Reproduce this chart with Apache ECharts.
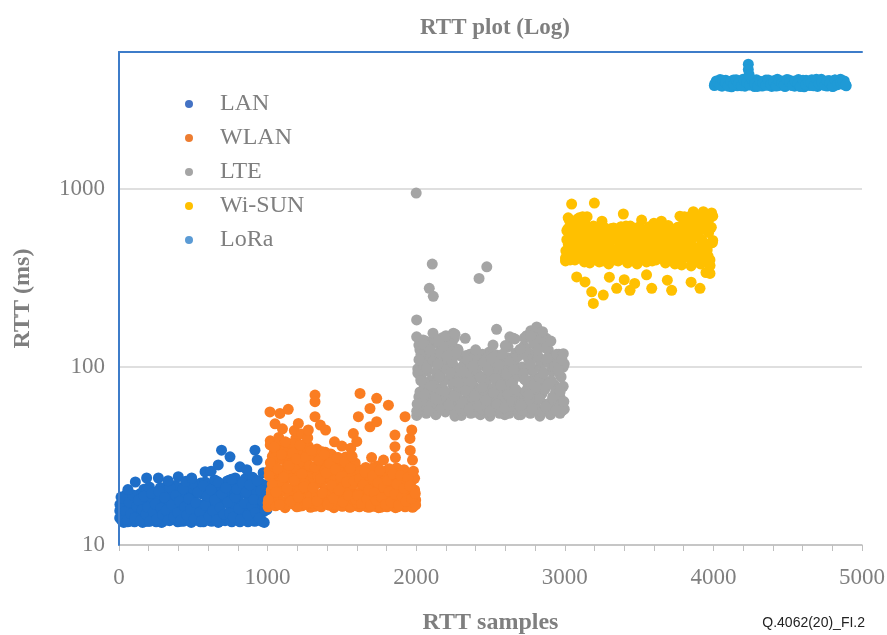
<!DOCTYPE html>
<html><head><meta charset="utf-8">
<script src="https://cdn.jsdelivr.net/npm/echarts@6/dist/echarts.min.js"></script>
<style>html,body{margin:0;padding:0;background:#fff}#c{width:887px;height:635px}</style>
</head><body><div id="c"></div>
<script>
const seriesNames = ['LAN', 'WLAN', 'LTE', 'Wi-SUN', 'LoRa'];
const xTicks = [0, 1000, 2000, 3000, 4000, 5000];
const yTicks = [10, 100, 1000];

// Sample ranges (RTT sample numbers) covered by each network's run
const lanRange = [0, 1000];
const wlanRange = [1000, 2000];
const lteRange = [2000, 3000];
const wisunRange = [3000, 4000];
const loraRange = [4000, 4900];

// RTT values (ms), in sample order (interleaved passes per run)
const lanRtt = [14.2,18.6,16.1,13.4,17.3,15.2,19.0,13.6,16.8,14.7,
 18.2,13.5,15.9,17.8,14.1,19.4,16.4,13.4,20.6,15.0,
 17.1,13.6,21.2,15.6,14.3,19.8,16.9,13.5,18.4,14.8,
 20.9,13.4,16.2,18.9,14.6,21.4,15.3,13.7,19.6,17.2,
 14.0,20.7,16.0,13.5,18.1,21.0,15.1,13.6,17.7,19.9,
 14.4,16.6,21.5,13.4,18.6,15.4,20.3,13.8,17.0,14.9,
 22.3,16.3,13.5,19.2,15.7,21.8,14.2,18.0,13.6,20.5,
 16.8,14.5,22.8,13.4,17.5,19.7,15.0,21.3,13.7,18.8,
 14.3,23.1,16.4,13.5,20.1,15.6,22.0,17.9,13.8,19.3,
 15.2,21.7,14.0,23.6,16.9,13.5,18.5,22.5,15.4,20.0,
 13.6,17.3,23.0,14.6,19.1,16.0,21.9,13.4,18.2,15.8];
const lanRtt2 = [15.6,13.8,17.6,14.9,19.2,13.5,16.4,18.0,
 14.5,17.2,13.7,19.0,15.8,14.0,18.4,16.7,
 13.6,20.2,15.2,17.5,14.2,19.6,16.0,13.8,
 18.7,15.0,21.0,13.5,17.1,14.7,20.4,16.5,
 13.9,18.9,15.5,21.6,14.1,17.8,13.6,19.8,
 16.2,14.6,22.0,15.1,18.3,13.7,20.8,17.0,
 14.3,21.9,16.6,13.5,19.4,15.3,22.6,17.6,
 13.8,20.6,15.8,14.2,23.2,16.9,18.6,13.6,
 21.4,15.0,19.9,14.4,22.9,17.3,13.7,20.9,
 16.1,23.8,14.8,18.9,13.5,22.2,15.9,19.6,
 14.1,21.2,17.7,13.8,24.0,16.3,20.2,14.6,
 22.7,18.1,13.6,15.4,21.6,17.0];
const lanRtt3 = [16.9,14.6,18.3,15.5,13.9,17.4,15.0,19.1,14.2,16.5,
 17.9,13.7,15.8,18.8,14.9,16.3,13.6,19.5,15.4,17.0,
 14.0,20.0,16.1,14.8,18.5,15.7,13.8,21.1,16.8,14.4,
 19.0,15.2,17.6,13.9,20.7,16.4,14.7,18.2,15.9,22.1,
 14.1,17.3,19.8,15.3,13.7,21.5,16.7,18.9,14.5,20.4,
 15.6,17.9,13.8,22.5,16.2,19.4,14.9,21.0,17.4,15.1,
 23.4,14.3,18.6,20.6,16.0,13.9,22.3,17.1,19.9,14.7,
 21.8,16.6,18.0,15.2,23.0,14.2,20.3,17.5,15.8,19.2];
const lanPeaks = [[60,20.5],[110,22.6],[186,23.8],[265,23.8],[330,23.0],[399,24.2],[450,22.8],[489,23.8],
 [579,25.8],[620,26.0],[668,28.2],[690,34.1],[747,31.3],[814,27.5],[860,26.5],[915,34.1],[930,30.0],[970,25.5]];

const wlanRtt = [16.4,26.2,38.5,20.3,29.8,18.1,33.6,23.2,
 16.8,25.4,40.2,21.0,30.5,17.6,35.1,22.6,
 16.2,27.0,37.4,19.8,28.9,18.7,34.4,24.1,
 17.0,25.9,39.6,20.9,31.2,16.5,33.0,22.9,
 16.6,26.8,36.8,19.5,29.4,18.4,35.8,23.6,
 16.3,27.4,
 20.2,31.8,16.5,25.6,34.6,18.9,28.7,22.4,
 16.4,30.9,19.7,26.3,33.2,17.8,23.5,28.2,
 16.7,32.5,21.1,25.1,16.2,29.6,18.6,23.9,
 31.0,17.2,26.9,20.4,16.5,28.4,22.2,30.2,
 17.5,25.0,19.2,16.3,27.6,21.5,29.1,18.0,
 24.4,16.6,
 19.4,26.6,16.4,22.3,18.0,24.8,16.9,21.0,
 27.3,17.5,23.4,16.3,19.9,25.6,17.1,22.0,
 16.5,24.1,18.6,27.8,16.2,20.6,23.0,17.7,
 16.8,25.2,19.0,22.6,16.4,26.4,18.2,21.3,
 16.6,23.8,17.4,20.1,16.2,27.1,18.8,22.9,
 16.9,24.6,17.2,19.6,26.1,16.4,21.7,18.4,
 16.7,25.0,19.3,17.0,23.3,16.5,20.4,17.9];
const wlanRtt2 = [17.2,24.5,36.5,19.4,31.5,21.7,27.6,16.6,
 33.8,18.5,26.0,38.8,22.8,17.4,30.2,20.1,
 25.3,35.0,16.9,28.4,19.0,32.8,23.7,17.8,
 37.2,21.4,27.0,16.4,30.8,19.9,24.8,34.2,
 18.2,29.0,22.1,36.0,17.0,26.5,20.6,31.9,
 18.8,25.5,
 17.3,27.0,21.8,31.4,19.0,24.6,16.8,29.8,
 22.9,33.4,18.1,26.2,20.5,30.4,17.1,24.0,
 28.6,19.6,32.0,21.2,16.9,27.8,23.2,18.6,
 30.6,20.8,25.8,16.6,29.2,22.0,19.3,31.2,
 24.9,17.6,27.3,20.0,16.4,26.0,21.9,17.9,
 28.9,19.1,
 17.2,22.9,18.9,26.0,16.8,20.8,24.2,17.6,
 21.4,16.4,25.3,19.0,23.6,17.3,20.0,27.2,
 16.6,22.6,18.3,24.7,17.0,21.2,16.3,19.6,
 25.9,17.7,23.0,16.5,20.5,18.6,26.8,17.1,
 22.2,16.7,24.0,19.2,17.5,21.9,16.4,25.1,
 18.0,23.4,16.9,20.2,26.5,17.4,22.5,16.6,
 19.8,24.3,17.2,21.0,16.3,18.8,23.7,16.8];
const wlanRtt3 = [18.0,29.0,22.0,35.5,19.8,26.8,16.9,32.2,24.0,38.0,20.9,28.0,
 17.6,33.0,23.0,30.5,18.6,36.4,25.2,21.2,31.0,17.3,27.9,34.0,
 21.0,27.5,17.7,30.0,23.6,19.6,32.2,25.4,16.9,28.8,21.7,18.3,
 26.6,30.9,20.3,24.1,17.5,29.4,22.6,19.0,27.0,31.5,23.0,18.0,
 19.0,23.6,17.1,21.8,25.6,18.1,20.4,16.7,24.4,19.6,17.8,22.4,26.3,18.5,21.1,16.9,
 23.1,20.0,17.4,25.0,19.3,22.0,16.8,24.6,18.7,20.8,17.6,23.9,21.5,18.2,26.0,19.5];
const wlanPeaks = [[1016,56],[1083,54.9],[1139,57.9],[1050,48],[1100,45],[1180,44],[1207,48.2],[1230,42],
 [1270,40],[1274,44.3],[1319,69.6],[1319,63.9],[1319,52.6],[1355,47.2],[1390,44.3],[1450,38],[1500,36],
 [1560,35],[1577,42.3],[1600,38.2],[1611,52.6],[1622,71.1],[1689,58.5],[1689,46.2],[1700,31],[1734,66.7],
 [1734,49.3],[1780,30],[1813,61.1],[1857,41.5],[1857,35.7],[1860,31],[1925,52.6],[1958,39.7],[1960,34],
 [1970,44.3],[1975,30]];

const lteRtt = [53.5,98,68,125,87,60,142,77,111,
 55,101,66,128,84,58,138,79,114,
 54,95,70,121,90,61,146,75,108,
 56,103,67,131,86,59,135,80,117,
 53,99,72,124,88,62,
 53.5,88,64,112,76,58,97,69,118,
 55,83,61,105,73,56,92,66,115,
 54,86,63,109,78,57,99,70,121,
 53,90,65,104,74,60,95,67,113,
 56,85,62,110,77,54,100,71,130,
 55,87,64,108,75,58,94,68,119,54,89,
 54,100,69,131,85,59,150,78,118,
 55,96,67,140,88,60,155,76,112,
 53,104,71,136,83,57,145,80,125,
 62,
 54,95,66,115,79,57,106,72,118,
 55,88,63,100,58];
const lteRtt2 = [56.5,92.5,133,72.5,118,64,104.5,82,140,
 58,95,128,70,115,62,108,80,144,
 55,90,136,75,120,66,102,84,138,
 57,97,130,71,112,63,106,81,146,
 56,94,126,74,116,65,
 57,81,104,64,116,72,92,59,100,
 68,112,78,56,96,62,108,74,88,
 58,118,70,102,60,84,114,66,93,
 57,106,76,99,63,117,71,86,55,
 110,67,91,61,103,79,57,113,69,
 95,60,82,107,65,120,73,89,58,
 98,62,
 57,92,146,73,125,64,110,83,160,
 58,97,138,70,120,66,114,86,152,
 56,94,142,75,128,62,106,81,
 56,84,112,64,100,73,118,59,93,68,108,57,78,104];
const lteRtt3 = [62,110,84,135,70,98,57,125,78,145,66,104,88,58,130,73,115,61,93,140,69,120,82,59,
 63,94,74,110,58,83,101,69,116,60,88,77,106,65,96,56,112,72,86,62,103,79,118,59,91,70,108,64,97,75,114,61,
 61,118,85,150,70,104,58,135,77,125,66,145,92,60,112,80,140,68,100,57,96,73,110,64];
const ltePeaks = [[2000,950],[2003,184],[2003,148],[2088,277],[2108,379],[2113,155],[2115,250],[2150,140],
 [2200,150],[2250,155],[2261,153],[2330,145],[2400,125],[2423,315],[2475,366],[2517,133],[2541,163],
 [2600,132],[2630,148],[2654,145],[2664,144],[2700,126],[2770,150],[2811,168],[2850,158],[2990,119]];

const wisunRtt = [395,520,690,470,620,430,560,
 400,510,680,465,610,425,570,
 390,530,700,455,
 385,505,615,455,580,420,540,
 390,495,625,460,570,415,550,
 380,510,600,445,585,425,530,
 395,500,610,470,575,410,545,
 385,515,620,450,590,430,535,
 380,505,605,465,565,420,555,
 390,490,615,455,580,415,540,
 400,510,600,445,570,425,535,
 385,520,625,460,585,410,545,
 380,500,610,470,575,
 375,520,700,460,640,415,580,
 370,530,715,470,650,420,590,
 380,510,690,455,630,410,570,
 372,500,705];
const wisunRtt2 = [410,585,492,665,450,635,537,420,610,470,690,440,560,405,650,500,595,430,
 405,537,450,600,492,420,565,470,615,
 395,510,440,585,480,410,550,460,605,
 400,525,445,595,485,415,545,475,620,
 390,515,455,580,490,405,560,465,610,
 398,530,440,590,478,412,548,458,600,
 395,520,448,605,486,418,555,470,615,
 400,510,452,585,482,408,540,462,595,
 392,528,446,
 390,545,665,440,600,500,700,410,620,470,685,430,560,395,640,480,710,420,590,455,675,400,610,515];
const wisunRtt3 = [450,600,400,660,520,430,640,480,560,415,
 590,470,540,620,440,505,575,425,610,490,
 400,555,460,595,430,525,615,445,570,485,
 410,545,600,465,420,530,585,450,560,405,
 605,475,515,435,590,495,440,565,420,600,
 455,535,410,580,470,625,430,550,490,660,
 440,610,400,680,520,460,640,420,700,500];
const wisunPeaks = [[3046,824],[3080,321],[3120,700],[3136,301],[3181,265],[3192,228],[3199,835],[3250,660],
 [3259,254],[3300,320],[3349,277],[3394,725],[3400,310],[3439,270],[3470,295],[3517,670],[3550,330],
 [3585,277],[3600,644],[3650,660],[3690,308],[3719,270],[3775,705],[3850,300],[3865,747],[3910,277],
 [3932,747],[3950,340],[3977,336],[3988,735]];

const loraRtt = [3820,4060,3900,4130,3790,3980,4090,3850,4020,3760,
 4110,3930,3810,4050,3880,4140,3790,4000,3860,4080,
 3940,3770,4120,3890,4030,3800,3960,4100,3840,4010,
 3780,4070,3920,4150,3830,3990,4060,3770,3910,4110,
 3850,4040,3790,3970,4130,3880,4010,3760,4090,3940,
 3820,4120,3900,4050,3780,3990,4140,3860,4030,3800,
 4080,3920,3770,4100,3850,4000,4150,3890,4060,3810];
const loraRtt2 = [3900,4000,3830,4090,3950,3790,4040,3870,4120,3930,3810,4070,3980,3850,4100,3920,3780,
 4030,3960,3840,4110,3890,4010,3800,4080,3940,3860,4130,3990,3820,4050,3910,3770,4090,3870,4020,3950,
 3810,4140,3900,4000,3830,4060,3930,3790,4110,3880,3970,4040,3850];
const loraPeaks = [[4235,5035],[4235,4700],[4240,4400]];

const pointColors = ['#1e6ec8', '#fa7d22', '#a5a5a5', '#ffc000', '#1f9ad6'];
const legendColors = ['#4472c4', '#ed7d31', '#a5a5a5', '#ffc000', '#5b9bd5'];

function samples(range, vals) {
  const n = vals.length, w = (range[1] - range[0]) / n;
  return vals.map((v, i) => [range[0] + (i + 0.5) * w, v]);
}
const seriesData = [
  samples(lanRange, lanRtt).concat(samples(lanRange, lanRtt2), samples(lanRange, lanRtt3), lanPeaks),
  samples(wlanRange, wlanRtt).concat(samples(wlanRange, wlanRtt2), samples(wlanRange, wlanRtt3), wlanPeaks),
  samples(lteRange, lteRtt).concat(samples(lteRange, lteRtt2), samples(lteRange, lteRtt3), ltePeaks),
  samples(wisunRange, wisunRtt).concat(samples(wisunRange, wisunRtt2), samples(wisunRange, wisunRtt3), wisunPeaks),
  samples(loraRange, loraRtt).concat(samples(loraRange, loraRtt2), loraPeaks)
];

const serif = '"Liberation Serif", "Times New Roman", serif';
const gray = '#7f7f7f';
const chart = echarts.init(document.getElementById('c'), null, {renderer: 'canvas'});
chart.setOption({
  animation: false,
  backgroundColor: '#fff',
  title: {
    text: 'RTT plot (Log)', left: 490, top: 12, textAlign: 'center',
    textStyle: {fontFamily: serif, fontSize: 23, fontWeight: 'bold', color: gray}
  },
  legend: {
    orient: 'vertical', left: 180, top: 87, itemWidth: 52, itemHeight: 8, itemGap: 10,
    icon: 'circle', selectedMode: false,
    textStyle: {fontFamily: serif, fontSize: 24, color: gray, lineHeight: 24},
    data: seriesNames.map((n, i) => ({name: n, itemStyle: {color: legendColors[i]}}))
  },
  grid: {left: 119, right: 25, top: 52, bottom: 90, outerBoundsMode: 'none', containLabel: false},
  xAxis: [{
    type: 'value', min: 0, max: 5000, interval: 200,
    name: 'RTT samples', nameLocation: 'middle', nameGap: 66,
    nameTextStyle: {fontFamily: serif, fontSize: 24, fontWeight: 'bold', color: gray},
    axisLine: {lineStyle: {color: '#bfbfbf', width: 1.5}},
    axisTick: {show: true, length: 6, lineStyle: {color: '#bfbfbf', width: 1}},
    axisLabel: {margin: 21, fontFamily: serif, fontSize: 23, color: gray,
      formatter: v => xTicks.indexOf(v) >= 0 ? String(v) : ''},
    splitLine: {show: false}
  }, {
    type: 'value', position: 'top', min: 0, max: 5000, z: 10,
    axisLine: {show: true, lineStyle: {color: '#3d7cc9', width: 2}},
    axisTick: {show: false}, axisLabel: {show: false}, splitLine: {show: false}
  }],
  yAxis: [{
    type: 'log', logBase: 10, min: 10, max: 5900,
    name: 'RTT (ms)', nameLocation: 'middle', nameGap: 84,
    nameTextStyle: {fontFamily: serif, fontSize: 24, fontWeight: 'bold', color: gray},
    axisLine: {show: true, lineStyle: {color: '#bfbfbf', width: 1.5}},
    axisTick: {show: false},
    axisLabel: {margin: 14, fontFamily: serif, fontSize: 23, color: gray, showMaxLabel: false,
      formatter: v => yTicks.indexOf(Math.round(v)) >= 0 ? String(Math.round(v)) : ''},
    splitLine: {show: true, lineStyle: {color: '#d4d4d4', width: 1.5}}
  }, {
    type: 'value', position: 'right', min: 0, max: 1, z: 10,
    axisLine: {show: true, lineStyle: {color: '#3d7cc9', width: 2}},
    axisTick: {show: false}, axisLabel: {show: false}, splitLine: {show: false}
  }],
  graphic: [{
    type: 'text', right: 22, top: 616,
    style: {text: 'Q.4062(20)_FI.2', fontFamily: '"Liberation Sans", Arial, sans-serif', fontSize: 14, fill: '#222'}
  }],
  series: seriesNames.map((n, i) => ({
    name: n, type: 'scatter', xAxisIndex: 0, yAxisIndex: 0,
    symbol: 'circle', symbolSize: 11,
    itemStyle: {color: pointColors[i], opacity: 1},
    data: seriesData[i]
  }))
});
</script></body></html>
